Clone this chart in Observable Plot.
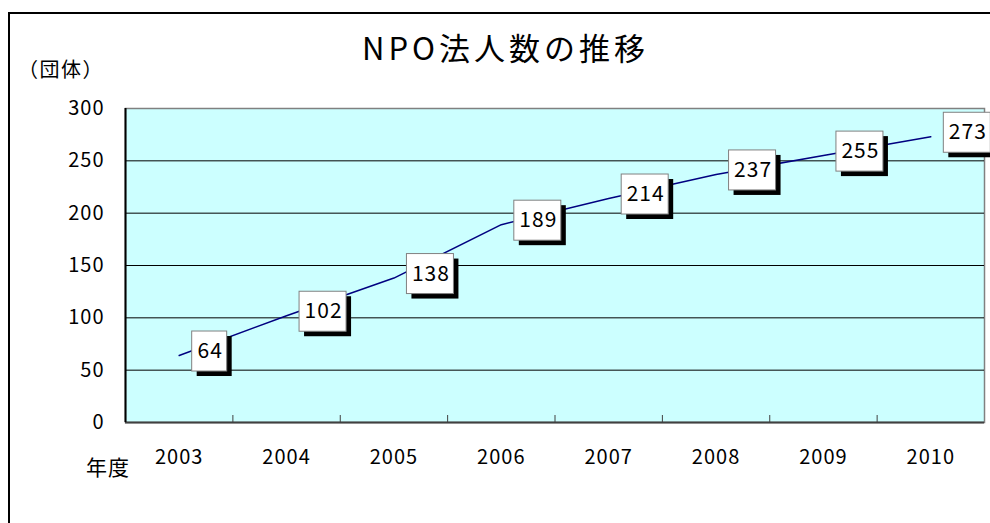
<!DOCTYPE html>
<html><head><meta charset="utf-8">
<script src="https://cdn.jsdelivr.net/npm/d3@7"></script>
<script src="https://cdn.jsdelivr.net/npm/@observablehq/plot@0.6"></script>
<style>
body{margin:0;overflow:hidden;background:#fff;font-family:"Noto Sans CJK JP",sans-serif;}
#wrap{position:relative;width:990px;height:523px;overflow:hidden;}
#border{position:absolute;left:8px;top:12px;width:1000px;height:600px;border:2px solid #000;box-sizing:border-box;}
.t{position:absolute;white-space:nowrap;line-height:1;color:#000;font-family:"Noto Sans CJK JP",sans-serif;}
#chart{position:absolute;left:0;top:0;}
</style></head><body>
<div id="wrap">
<div id="border"></div>
<div id="chart"></div>
<div class="t" style="left:362px;top:31px;font-size:31px;letter-spacing:4px">NPO法人数の推移</div>
<div class="t" style="left:18px;top:59px;font-size:20px;letter-spacing:1.5px">（団体）</div>
<div class="t" style="left:86px;top:456px;font-size:21px;letter-spacing:1px">年度</div>
</div>
<script>
const years = [2003, 2004, 2005, 2006, 2007, 2008, 2009, 2010];
const values = [64, 102, 138, 189, 214, 237, 255, 273];
const yTicks = [0, 50, 100, 150, 200, 250, 300];
const gridValues = [50, 100, 150, 200, 250];

const data = years.map((year, i) => ({year, value: values[i]}));
const boundaries = years.slice(0, -1).map(y => y + 0.5);
const xDomain = [years[0] - 0.5, years[years.length - 1] + 0.5];

function labelMarks(subset, w) {
  const cx = 13 + w / 2;
  const common = {x1: "year", x2: "year", y1: "value", y2: "value",
    insetLeft: -w / 2, insetRight: -w / 2, insetTop: -20, insetBottom: -20};
  return [
    Plot.rect(subset, {...common, fill: "#000", dx: cx + 5, dy: -4 + 5}),
    Plot.rect(subset, {...common, fill: "#fff", stroke: "#808080", strokeWidth: 1, dx: cx, dy: -4}),
    Plot.text(subset, {x: "year", y: "value", text: d => String(d.value), dx: cx + 0.5, dy: -4,
      fontSize: 21, fill: "#000", textAnchor: "middle", style: "letter-spacing:1px"})
  ];
}

const chart = Plot.plot({
  width: 990, height: 523,
  marginLeft: 125, marginRight: 6, marginTop: 108, marginBottom: 101,
  style: {fontFamily: "'Noto Sans CJK JP', sans-serif", background: "transparent", overflow: "visible", color: "#000", letterSpacing: "1px"},
  x: {domain: xDomain, label: null},
  y: {domain: [0, 300], label: null},
  marks: [
    Plot.frame({fill: "#ccffff", stroke: "#808080", strokeWidth: 1.5}),
    Plot.ruleY(gridValues, {stroke: "#000", strokeWidth: 1}),
    Plot.ruleY([0], {stroke: "#404040", strokeWidth: 2}),
    Plot.ruleX([xDomain[0]], {stroke: "#000", strokeWidth: 2}),
    Plot.axisY({ticks: yTicks, tickSize: 0, tickPadding: 21, fontSize: 20, tickFormat: d => String(d), label: null}),
    Plot.axisX({ticks: years, tickSize: 0, tickPadding: 27, fontSize: 20, tickFormat: d => String(d), label: null}),
    Plot.axisX({ticks: boundaries, tickSize: -7, tickFormat: () => "", stroke: "#404040", label: null}),
    Plot.line(data, {x: "year", y: "value", stroke: "#000080", strokeWidth: 1.5}),
    ...labelMarks(data.filter(d => d.value < 100), 35),
    ...labelMarks(data.filter(d => d.value >= 100), 47)
  ]
});
document.getElementById("chart").appendChild(chart);
</script>
</body></html>
